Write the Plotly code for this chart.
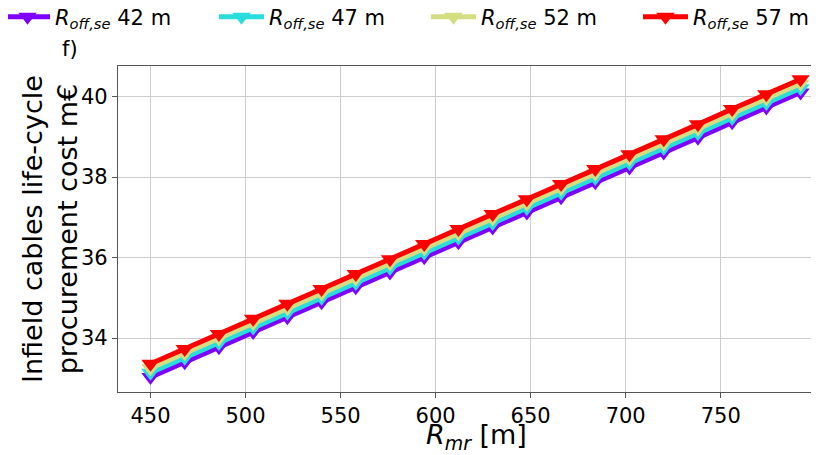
import plotly.graph_objects as go

r_mr = [450, 468, 486, 504, 522, 540, 558, 576, 594, 612,
        630, 648, 666, 684, 702, 720, 738, 756, 774, 792]

cost_57 = [33.36, 33.73, 34.10, 34.48, 34.85, 35.22, 35.59, 35.96, 36.34, 36.71,
           37.08, 37.45, 37.83, 38.20, 38.57, 38.94, 39.31, 39.69, 40.06, 40.43]
cost_52 = [33.25, 33.62, 33.99, 34.37, 34.74, 35.11, 35.48, 35.85, 36.23, 36.60,
           36.97, 37.34, 37.72, 38.09, 38.46, 38.83, 39.20, 39.58, 39.95, 40.32]
cost_47 = [33.14, 33.51, 33.88, 34.26, 34.63, 35.00, 35.37, 35.74, 36.12, 36.49,
           36.86, 37.23, 37.61, 37.98, 38.35, 38.72, 39.09, 39.47, 39.84, 40.21]
cost_42 = [33.03, 33.40, 33.77, 34.15, 34.52, 34.89, 35.26, 35.63, 36.01, 36.38,
           36.75, 37.12, 37.50, 37.87, 38.24, 38.61, 38.98, 39.36, 39.73, 40.10]

series_labels = ["42 m", "47 m", "52 m", "57 m"]
series_values = [cost_42, cost_47, cost_52, cost_57]
colors = ["#8000ff", "#2adddd", "#d4dd80", "#ff0000"]

x_ticks = [450, 500, 550, 600, 650, 700, 750]
y_ticks = [34, 36, 38, 40]

font = "DejaVu Sans"
legend_names = ["legend", "legend2", "legend3", "legend4"]
legend_x = [-0.1683, 0.1369, 0.4393, 0.7418]

fig = go.Figure()
for lab, vals, col, lg in zip(series_labels, series_values, colors, legend_names):
    fig.add_trace(go.Scatter(
        x=r_mr, y=vals, mode="lines+markers",
        name="<i>R</i><sub><i>off,se</i></sub> " + lab,
        line=dict(color=col, width=5),
        marker=dict(symbol="triangle-down", size=16, color=col),
        legend=lg,
    ))

legend_cfg = {}
for lg, lx in zip(legend_names, legend_x):
    legend_cfg[lg] = dict(orientation="h", x=lx, xanchor="left", y=1.15, yanchor="middle",
                          font=dict(size=21), itemwidth=45, bgcolor="rgba(0,0,0,0)")

fig.update_layout(
    width=811, height=447,
    margin=dict(l=110, r=0, t=58, b=63, autoexpand=False),
    paper_bgcolor="white", plot_bgcolor="white",
    font=dict(family=font, size=21, color="black"),
    showlegend=True,
    **legend_cfg,
    xaxis=dict(range=[432.9, 801.7], tickvals=x_ticks, showgrid=True,
               gridcolor="#cccccc", gridwidth=1, showline=True, linecolor="#555555",
               linewidth=1.3, mirror=True, ticks="outside", ticklen=5, tickcolor="#555555",
               tickfont=dict(size=21), zeroline=False),
    yaxis=dict(range=[32.66, 40.76], tickvals=y_ticks, showgrid=True,
               gridcolor="#cccccc", gridwidth=1, showline=True, linecolor="#555555",
               linewidth=1.3, mirror=False, ticks="outside", ticklen=5, tickcolor="#555555",
               tickfont=dict(size=21), zeroline=False),
    annotations=[
        dict(text="f)", xref="paper", yref="paper", x=-0.083, y=1.052,
             xanchor="left", yanchor="middle", showarrow=False, font=dict(size=21)),
        dict(text="<i>R</i><sub><i>mr</i></sub> [m]", xref="paper", yref="paper",
             x=0.511, y=-0.138, xanchor="center", yanchor="middle", showarrow=False,
             font=dict(size=27)),
        dict(text="Infield cables life-cycle<br>procurement cost m€", xref="paper",
             yref="paper", x=-0.097, y=0.5, xanchor="center", yanchor="middle",
             textangle=-90, showarrow=False, font=dict(size=27)),
    ],
)

fig.write_html("out.html")
